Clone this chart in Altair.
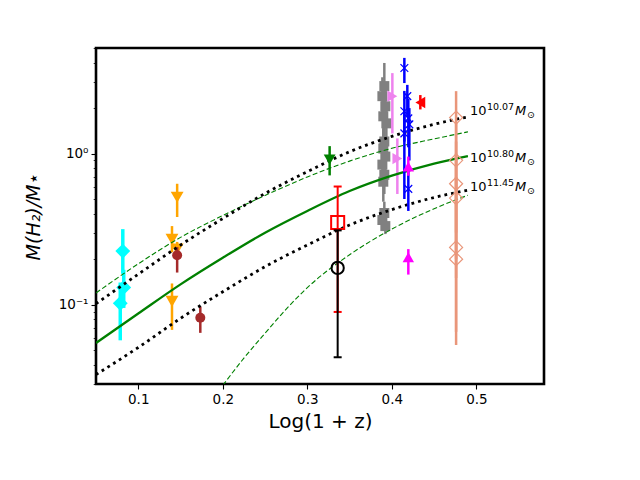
import altair as alt
import pandas as pd

# ---------------- model curves ----------------
curve_x = [0.05, 0.10, 0.15, 0.20, 0.25, 0.30, 0.35, 0.40, 0.45, 0.49]
solid_y = [0.0557, 0.0873, 0.1361, 0.2042, 0.2992, 0.4169, 0.5649, 0.7145, 0.8590, 0.9616]
dot_hi_y = [0.1014, 0.1589, 0.2477, 0.3715, 0.5445, 0.7586, 1.028, 1.300, 1.563, 1.750]
dot_lo_y = [0.0344, 0.0520, 0.0811, 0.1216, 0.1782, 0.2483, 0.3365, 0.4256, 0.5117, 0.5728]
dash_hi_y = [0.1194, 0.1862, 0.2786, 0.3890, 0.5284, 0.6998, 0.8913, 1.0839, 1.2503, 1.3932]
dash_lo_x = [0.20, 0.225, 0.25, 0.275, 0.30, 0.35, 0.40, 0.45, 0.49]
dash_lo_y = [0.0292, 0.0442, 0.0646, 0.0933, 0.1294, 0.2138, 0.3162, 0.4315, 0.5297]

# ---------------- data points ----------------
cyan_x = [0.0817, 0.0828, 0.0787]
cyan_y = [0.226, 0.130, 0.102]
cyan_lo = [0.160, 0.095, 0.058]
cyan_hi = [0.316, 0.170, 0.140]

orange_x = [0.146, 0.1399, 0.146, 0.1399]
orange_y = [0.514, 0.271, 0.233, 0.105]
orange_lo = [0.380, 0.222, 0.210, 0.068]
orange_hi = [0.631, 0.331, 0.260, 0.138]

brown_x = [0.146, 0.1734]
brown_y = [0.212, 0.0819]
brown_lo = [0.163, 0.065]
brown_hi = [0.240, 0.097]

green_x = [0.3264]
green_y = [0.912]
green_lo = [0.717]
green_hi = [1.12]

redsq_x = [0.3359]
redsq_y = [0.35]
redsq_lo = [0.0894]
redsq_hi = [0.605]

blk_x = [0.3359]
blk_y = [0.175]
blk_lo = [0.0448]
blk_hi = [0.31]

gray_x = [0.3911, 0.3888, 0.3923, 0.3899, 0.3935, 0.3911, 0.3899,
          0.3923, 0.3888, 0.3911, 0.3899, 0.3911, 0.3888, 0.3923]
gray_y = [2.797, 2.399, 2.057, 1.765, 1.585, 1.202, 1.080,
          0.955, 0.845, 0.724, 0.651, 0.404, 0.363, 0.331]
gray_lo = [2.10, 1.80, 1.55, 1.30, 1.15, 0.90, 0.80,
           0.70, 0.62, 0.54, 0.48, 0.34, 0.31, 0.293]
gray_hi = [3.98, 3.20, 2.70, 2.35, 2.10, 1.60, 1.45,
           1.30, 1.15, 0.97, 0.87, 0.48, 0.43, 0.39]

violet_x = [0.4006, 0.4065]
violet_y = [2.40, 0.926]
violet_lo = [1.36, 0.54]
violet_hi = [3.41, 1.26]

blue_x = [0.4148, 0.4183, 0.4148, 0.4195, 0.4207, 0.4148, 0.4195]
blue_y = [3.69, 2.40, 1.905, 1.71, 1.56, 1.36, 0.584]
blue_lo = [2.93, 1.75, 1.20, 1.10, 0.90, 0.50, 0.417]
blue_hi = [4.30, 2.85, 2.60, 2.30, 2.00, 1.90, 0.80]

redtri_x = [0.4337]
redtri_y = [2.18]
redtri_lo = [1.96]
redtri_hi = [2.44]

mag_x = [0.4195, 0.4195]
mag_y = [0.819, 0.206]
mag_lo = [0.713, 0.158]
mag_hi = [0.955, 0.233]

salmon_x = [0.476, 0.476, 0.476, 0.476, 0.476, 0.476]
salmon_y = [1.73, 0.902, 0.631, 0.507, 0.239, 0.200]
salmon_lo = [0.60, 0.30, 0.20, 0.15, 0.066, 0.054]
salmon_hi = [2.59, 1.60, 1.20, 1.00, 0.70, 0.60]

# curve labels
lab_x = [0.4924, 0.4924, 0.4924]
lab_y = [1.80, 0.88, 0.561]
lab_exp = ["10.07", "10.80", "11.45"]

y_ticks = [0.03, 0.04, 0.05, 0.06, 0.07, 0.08, 0.09,
           0.1, 0.2, 0.3, 0.4, 0.5, 0.6, 0.7, 0.8, 0.9,
           1, 2, 3, 4, 5]
x_ticks = [0.1, 0.2, 0.3, 0.4, 0.5]

FONT = "DejaVu Sans"

xscale = alt.Scale(domain=[0.05, 0.58], nice=False, zero=False)
yscale = alt.Scale(type="log", domain=[0.0298, 5.0], nice=False)

xaxis = alt.Axis(values=x_ticks, format=".1f", title="Log(1 + z)",
                 grid=False, domain=False, tickColor="black", tickSize=5,
                 tickWidth=1.1, labelColor="black", labelFont=FONT,
                 labelFontSize=13.5, labelPadding=3, titleFont=FONT,
                 titleFontSize=20, titleFontWeight="normal",
                 titleColor="black", titlePadding=6, labelFlush=False)
yaxis = alt.Axis(values=y_ticks, title="M(H₂)/M⋆", grid=False, domain=False,
                 tickColor="black",
                 tickSize={"condition": {"test": "datum.value == 1 || datum.value == 0.1", "value": 5}, "value": 2.8},
                 tickWidth={"condition": {"test": "datum.value == 1 || datum.value == 0.1", "value": 1.1}, "value": 0.8},
                 labelExpr="datum.value == 1 ? '10⁰' : (datum.value == 0.1 ? '10⁻¹' : '')",
                 labelColor="black", labelFont=FONT, labelFontSize=13.5,
                 labelPadding=3, titleFont=FONT, titleFontSize=19,
                 titleFontWeight="normal", titleFontStyle="italic",
                 titleColor="black", titlePadding=15, labelFlush=False)


def X(field="x"):
    return alt.X(field, type="quantitative", scale=xscale, axis=xaxis)


def Y(field="y"):
    return alt.Y(field, type="quantitative", scale=yscale, axis=yaxis)


def group(xs, ys, los, his):
    return pd.DataFrame({"x": xs, "y": ys, "lo": los, "hi": his})


layers = []


def add_points(df, color, shape, size, filled=True, bar_width=2.5,
               stroke_width=1.0, caps=False, cap_size=8):
    rule = alt.Chart(df).mark_rule(color=color, strokeWidth=bar_width).encode(
        x=X(), y=Y("lo"), y2=alt.Y2("hi"))
    layers.append(rule)
    if caps:
        for f in ["lo", "hi"]:
            layers.append(alt.Chart(df).mark_point(
                shape="M-1,0L1,0", filled=False, stroke=color,
                strokeWidth=bar_width, size=cap_size ** 2, opacity=1
            ).encode(x=X(), y=Y(f)))
    if filled:
        pt = alt.Chart(df).mark_point(shape=shape, filled=True, fill=color,
                                      size=size, opacity=1, strokeWidth=0)
    else:
        pt = alt.Chart(df).mark_point(shape=shape, filled=False, stroke=color,
                                      fill=None, size=size, opacity=1,
                                      strokeWidth=stroke_width)
    layers.append(pt.encode(x=X(), y=Y()))


def curve(xs, ys, color, width, dash=None):
    df = pd.DataFrame({"x": xs, "y": ys})
    kw = dict(color=color, strokeWidth=width, clip=True, strokeCap="butt",
              interpolate="monotone")
    if dash:
        kw["strokeDash"] = dash
    return alt.Chart(df).mark_line(**kw).encode(x=X(), y=Y())


add_points(group(cyan_x, cyan_y, cyan_lo, cyan_hi), "#00ffff", "diamond", 220, bar_width=3.5)
add_points(group(orange_x, orange_y, orange_lo, orange_hi), "#ffa500", "triangle-down", 165)
add_points(group(brown_x, brown_y, brown_lo, brown_hi), "#a52a2a", "circle", 100)
add_points(group(gray_x, gray_y, gray_lo, gray_hi), "#808080", "square", 100)
add_points(group(violet_x, violet_y, violet_lo, violet_hi), "#ee82ee", "triangle-right", 130)

layers.append(curve(curve_x, dash_hi_y, "#008000", 1.1, [5, 2.5]))
layers.append(curve(dash_lo_x, dash_lo_y, "#008000", 1.1, [5, 2.5]))
layers.append(curve(curve_x, solid_y, "#008000", 2.3))
layers.append(curve(curve_x, dot_hi_y, "black", 2.8, [2.8, 4]))
layers.append(curve(curve_x, dot_lo_y, "black", 2.8, [2.8, 4]))

add_points(group(green_x, green_y, green_lo, green_hi), "#008000", "triangle-down", 140)
add_points(group(redsq_x, redsq_y, redsq_lo, redsq_hi), "#ff0000", "square", 170,
           filled=False, bar_width=2, stroke_width=2, caps=True)
add_points(group(blk_x, blk_y, blk_lo, blk_hi), "black", "circle", 150,
           filled=False, bar_width=2, stroke_width=2, caps=True)
add_points(group(blue_x, blue_y, blue_lo, blue_hi), "#0000ff", "M-1,-1L1,1M-1,1L1,-1", 60,
           filled=False, bar_width=2.5, stroke_width=1.2)
add_points(group(redtri_x, redtri_y, redtri_lo, redtri_hi), "#ff0000", "triangle-left", 130)
add_points(group(mag_x, mag_y, mag_lo, mag_hi), "#ff00ff", "triangle-up", 130)
add_points(group(salmon_x, salmon_y, salmon_lo, salmon_hi), "#e9967a", "diamond", 170,
           filled=False, bar_width=2.5, stroke_width=1.2)

# curve labels: 10^{exp} M_sun
lab = pd.DataFrame({"x": lab_x, "y": lab_y, "e": lab_exp})
base = alt.Chart(lab)
layers.append(base.mark_text(text="10", font=FONT, fontSize=13, align="left",
                             baseline="alphabetic", color="black").encode(x=X(), y=Y()))
layers.append(base.mark_text(font=FONT, fontSize=9.5, align="left", dx=17, dy=-5,
                             baseline="alphabetic", color="black").encode(
    x=X(), y=Y(), text="e:N"))
layers.append(base.mark_text(text="M", font=FONT, fontSize=13, fontStyle="italic",
                             align="left", dx=45, baseline="alphabetic",
                             color="black").encode(x=X(), y=Y()))
layers.append(base.mark_text(text="⊙", font=FONT, fontSize=9.5, align="left", dx=57,
                             dy=3, baseline="alphabetic",
                             color="black").encode(x=X(), y=Y()))

chart = alt.layer(*layers).properties(
    width=448, height=336,
    autosize=alt.AutoSizeParams(type="none"),
    padding={"left": 88, "top": 40, "right": 88, "bottom": 88},
    background="white",
).configure_view(stroke="black", strokeWidth=2.6)

chart.save("out.html", embed_options={"renderer": "svg", "actions": False})
